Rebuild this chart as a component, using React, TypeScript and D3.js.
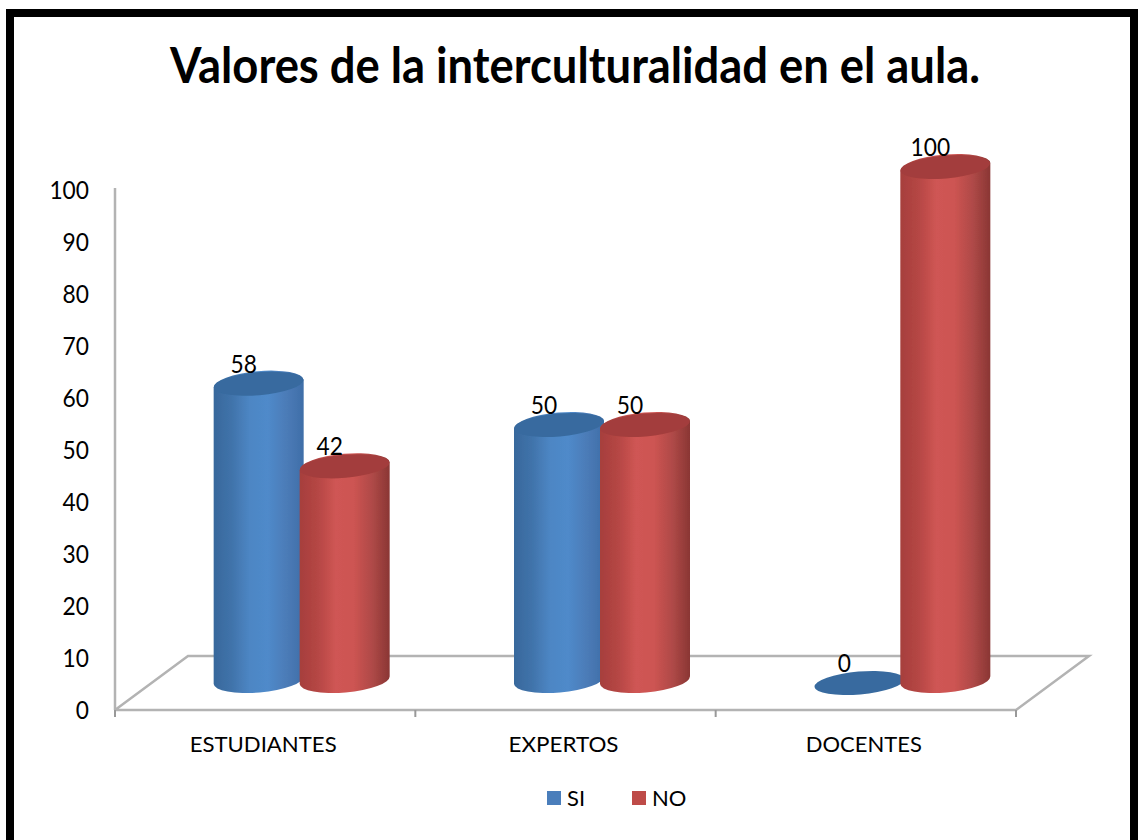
import React from "react";
import * as d3 from "d3";

const title = "Valores de la interculturalidad en el aula.";
const categories = ["ESTUDIANTES", "EXPERTOS", "DOCENTES"];
const categoryWidths = [147, 110, 116];
const seriesNames = ["SI", "NO"];
const siValues = [58, 50, 0];
const noValues = [42, 50, 100];
const yTicks = [0, 10, 20, 30, 40, 50, 60, 70, 80, 90, 100];

const FONT = "Lato, 'Open Sans', sans-serif";
const W = 1141, H = 840;
const axisX0 = 115, axisX1 = 1016, floorY = 710, depthX = 73, depthY = 54;
const labelScale = d3.scaleLinear().domain([0, 100]).range([709.5, 190]);
const barScale = d3.scaleLinear().domain([0, 100]).range([683, 167]);
const xBand = d3.scaleBand<string>().domain(categories).range([axisX0, axisX1]);
const groupShift = 36.5;
const rx = 45, ry = 12.5, tilt = -5;
const tiltDy = rx * Math.sin((-tilt * Math.PI) / 180);
const digitW = 13.2;

const palettes = [
  { id: "gSi", top: "#376b9f", stops: ["#38689c", "#4073aa", "#4d86c4", "#4f8aca", "#4c7cb8", "#3f6ea8"] },
  { id: "gNo", top: "#a33e3c", stops: ["#a63f3d", "#b54644", "#cf5654", "#cd5452", "#b04a48", "#8a3634"] },
];

function cylinder(cx: number, topY: number, baseY: number) {
  const lx = cx - rx, rxx = cx + rx;
  return `M${lx},${topY + tiltDy} A${rx},${ry} ${tilt} 0 1 ${rxx},${topY - tiltDy} L${rxx},${baseY - tiltDy} A${rx},${ry} ${tilt} 0 1 ${lx},${baseY + tiltDy} Z`;
}

export default function App() {
  const bw = xBand.bandwidth();
  return (
    <svg width={W} height={H} style={{ position: "absolute", left: 0, top: 0, background: "#fff" }} fontFamily={FONT}>
      <defs>
        {palettes.map((p) => (
          <linearGradient key={p.id} id={p.id} x1="0" x2="1" y1="0" y2="0">
            {p.stops.map((c, i) => (
              <stop key={i} offset={`${(i / (p.stops.length - 1)) * 100}%`} stopColor={c} />
            ))}
          </linearGradient>
        ))}
        <filter id="soft" x="-5%" y="-5%" width="110%" height="110%">
          <feGaussianBlur stdDeviation="0.7" />
        </filter>
      </defs>

      <rect x={10} y={13} width={1124} height={H + 40} fill="#fff" stroke="#000" strokeWidth={8} />

      <text x={575} y={83} textAnchor="middle" fontSize={49} fontWeight={700} fill="#000" textLength={810} lengthAdjust="spacingAndGlyphs">
        {title}
      </text>

      <g stroke="#b3b3b3" strokeWidth={2.5} fill="none">
        <line x1={axisX0} y1={188} x2={axisX0} y2={floorY} />
        <polyline points={`${axisX0},${floorY} ${axisX0 + depthX},${floorY - depthY} ${axisX1 + depthX},${floorY - depthY} ${axisX1},${floorY} ${axisX0},${floorY}`} />
        {[...categories.map((c) => xBand(c)!), axisX1].map((x, i) => (
          <line key={i} x1={x} x2={x} y1={floorY} y2={floorY + 7} stroke="#999" strokeWidth={2} />
        ))}
      </g>

      {yTicks.map((t) => (
        <text key={t} x={89} y={labelScale(t)} dy="0.36em" textAnchor="end" fontSize={25} fill="#000"
          textLength={String(t).length * digitW} lengthAdjust="spacingAndGlyphs">
          {t}
        </text>
      ))}

      {categories.map((c, i) => {
        const center = xBand(c)! + bw / 2;
        const inner = d3.scaleBand<number>().domain([0, 1]).range([center + groupShift - 86, center + groupShift + 86]);
        return (
          <g key={c}>
            {[siValues[i], noValues[i]].map((v, s) => {
              const cx = inner(s)! + inner.bandwidth() / 2;
              const topY = barScale(v);
              const baseY = barScale(0) - 3;
              const p = palettes[s];
              return (
                <g key={s} filter="url(#soft)">
                  {v > 0 && <path d={cylinder(cx, topY, baseY)} fill={`url(#${p.id})`} />}
                  <ellipse cx={cx} cy={topY} rx={rx} ry={ry - 1} fill={p.top} transform={`rotate(${tilt} ${cx} ${topY})`} />
                </g>
              );
            })}
            {[siValues[i], noValues[i]].map((v, s) => {
              const cx = inner(s)! + inner.bandwidth() / 2;
              return (
                <text key={s} x={cx - 15} y={barScale(v) - 20} dy="0.36em" textAnchor="middle" fontSize={25} fill="#000"
                  textLength={String(v).length * digitW} lengthAdjust="spacingAndGlyphs">
                  {v}
                </text>
              );
            })}
            <text x={center - 2} y={744} dy="0.36em" textAnchor="middle" fontSize={22} fill="#000"
              textLength={categoryWidths[i]} lengthAdjust="spacingAndGlyphs">
              {c}
            </text>
          </g>
        );
      })}

      {seriesNames.map((n, i) => {
        const x = i === 0 ? 547 : 632;
        return (
          <g key={n}>
            <rect x={x} y={791} width={14} height={14} fill={i === 0 ? "#4a7ebb" : "#be4b48"} />
            <text x={x + 20} y={798} dy="0.36em" fontSize={22} fill="#000">{n}</text>
          </g>
        );
      })}
    </svg>
  );
}
